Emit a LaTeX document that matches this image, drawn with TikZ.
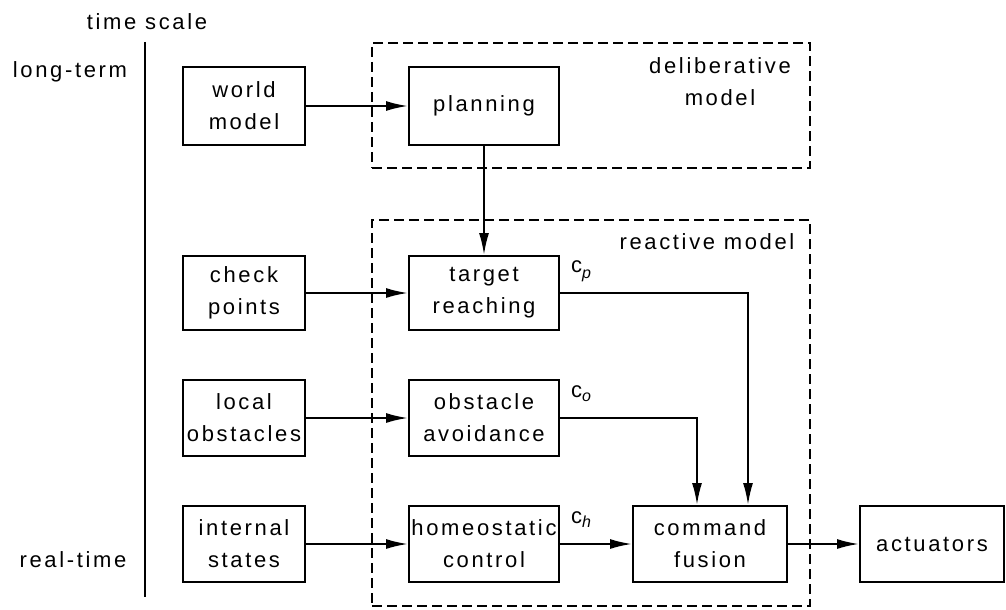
\documentclass[tikz,border=0pt]{standalone}
\usepackage{fontspec}
\setmainfont[LetterSpace=12]{Liberation Sans}
\usetikzlibrary{arrows.meta}
\newcommand\cmdsub[2]{\raisebox{#1}{\fontsize{16}{16}\selectfont\itshape #2}}

\begin{document}
\begin{tikzpicture}[x=1pt, y=-1pt, line width=2pt,
  font=\fontsize{22}{32}\selectfont,
  blk/.style={draw, align=center, inner sep=0pt, minimum height=76},
  leftcol/.style={blk, minimum width=122},
  midcol/.style={blk, minimum width=150},
  region/.style={draw, dash pattern=on 10pt off 5pt, inner sep=0pt},
  arr/.style={-{Latex[length=22pt, width=10pt]}},
  lbl/.style={inner sep=0pt, anchor=base west}
]
\useasboundingbox (0,0) rectangle (1006,610);

% time axis
\node (ts) at (147,22) {time scale};
\node (lt) at (70,72) {long-term};
\node (rt) at (73,560) {real-time};
\coordinate (axtop) at (145,42);
\coordinate (axbot) at (145,597);
\draw (axtop) -- (axbot);

% model regions
\node[region, minimum width=438, minimum height=125] (delib) at (591,105.5) {};
\node[region, minimum width=438, minimum height=386] (react) at (591,413) {};
\node[align=center] (delibl) at (720,82) {deliberative\\model};
\node (reactl) at (707,242) {reactive model};

% blocks
\node[leftcol, minimum height=78] (world) at (244,106) {world\\model};
\node[midcol, minimum height=78] (plan) at (484,106) {planning};
\node[leftcol, minimum height=74] (check) at (244,293) {check\\points};
\node[midcol, minimum height=74] (target) at (484,293) {target\\reaching};
\node[leftcol] (local) at (244,418) {local\\obstacles};
\node[midcol] (obst) at (484,418) {obstacle\\avoidance};
\node[leftcol] (internal) at (244,544) {internal\\states};
\node[midcol] (homeo) at (484,544) {homeostatic\\control};
\node[blk, minimum width=154] (fusion) at (710,544) {command\\fusion};
\node[blk, minimum width=144] (act) at (932,544) {actuators};

% command labels
\node[lbl] (cp) at (570,272) {c\cmdsub{-6pt}{p}};
\node[lbl] (co) at (570,397) {c\cmdsub{-4pt}{o}};
\node[lbl] (ch) at (570,523) {c\cmdsub{-4pt}{h}};

% connections
\draw[arr] (world) -- (plan);
\draw[arr] (plan) -- (target);
\draw[arr] (check) -- (target);
\draw[arr] (local) -- (obst);
\draw[arr] (internal) -- (homeo);
\draw[arr] (homeo) -- (fusion);
\draw[arr] (fusion) -- (act);
\draw[arr] (target.east) -| ([xshift=38pt]fusion.north);
\draw[arr] (obst.east) -| ([xshift=-13pt]fusion.north);
\end{tikzpicture}
\end{document}
